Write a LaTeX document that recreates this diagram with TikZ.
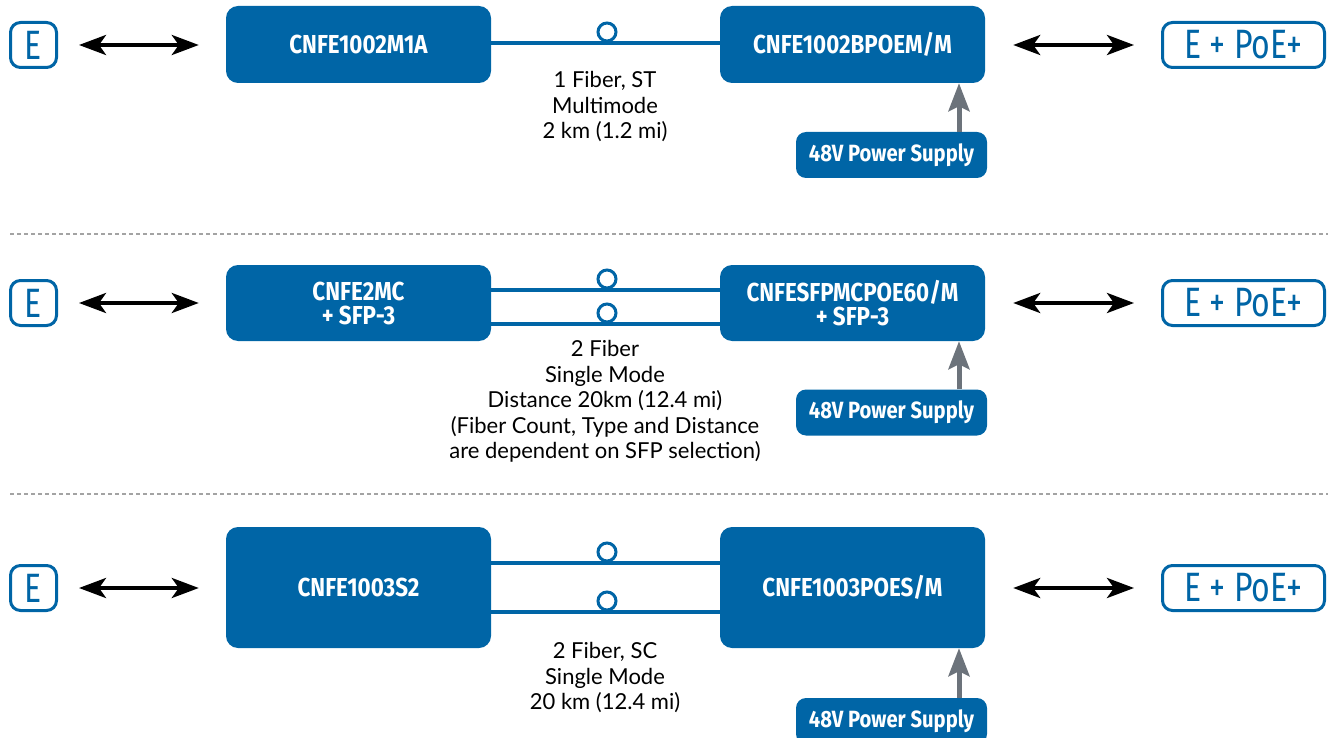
\documentclass[tikz,border=0pt]{standalone}
\usepackage{fontspec}
\setmainfont{Lato}
\newfontfamily\condfont[FakeStretch=0.86]{Fira Sans}
\newfontfamily\thinfont[FakeStretch=0.78]{Fira Sans}
\usetikzlibrary{arrows.meta}
\definecolor{cblue}{HTML}{0065A6}
\definecolor{feedgray}{HTML}{6C737B}
\definecolor{sepgray}{HTML}{A3A3A3}

\tikzset{
unit/.style={fill=cblue, rounded corners=12pt, text=white, align=center,
  minimum width=265pt, inner sep=0pt,
  font=\condfont\bfseries\fontsize{26}{24}\selectfont},
psu/.style={fill=cblue, rounded corners=10pt, text=white,
  minimum width=191pt, minimum height=46pt, inner sep=0pt,
  font=\condfont\bfseries\fontsize{23.5}{23.5}\selectfont},
port/.style={draw=cblue, line width=3pt, rounded corners=10pt, text=cblue,
  minimum height=45pt, inner sep=0pt,
  font=\thinfont\fontsize{41}{41}\selectfont},
note/.style={align=center, inner sep=0pt, font=\fontsize{22}{25.5}\selectfont},
duplex/.style={line width=4pt, {Stealth[length=27pt,width=20pt,inset=7pt]}-{Stealth[length=27pt,width=20pt,inset=7pt]}},
feed/.style={draw=feedgray, line width=5pt, -{Stealth[length=28pt,width=21pt,inset=5pt]}},
fiber/.style={draw=cblue, line width=4.5pt},
splice/.style={circle, draw=cblue, line width=3pt, fill=white, minimum size=18pt, inner sep=0pt},
sep/.style={draw=sepgray, line width=1.5pt, dash pattern=on 4pt off 3pt}
}

\begin{document}
\begin{tikzpicture}[x=1pt, y=-1pt]
\useasboundingbox (0,0) rectangle (1328,738);

% row 1
\node[port, minimum width=46pt] (e1) at (33.5,45) {E};
\node[unit, minimum height=77pt] (a1) at (358.5,44.5) {CNFE1002M1A};
\node[unit, minimum height=77pt] (b1) at (852.5,44.5) {CNFE1002BPOEM/M};
\node[port, minimum width=162pt] (q1) at (1243.5,45) {E + PoE+};
\node[psu] (p1) at (891.5,155) {48V Power Supply};
\draw[duplex, shorten <=21pt, shorten >=27pt] (e1.east) -- (e1.east -| a1.west);
\draw[duplex, shorten <=28pt, shorten >=27pt] (b1.east |- q1.west) -- (q1.west);
\draw[fiber] (a1.east |- 0,43) -- (b1.west |- 0,43);
\node[splice] (s1) at (607,32) {};
\draw[feed] (p1.north -| 959,0) -- (b1.south -| 959,0);
\node[note] (t1) at (605,107) {1 Fiber, ST\\Multimode\\2 km (1.2 mi)};

\draw[sep] (10,234) -- (1328,234);

% row 2
\node[port, minimum width=46pt] (e2) at (33.5,303) {E};
\node[unit, minimum height=76pt] (a2) at (358.5,303) {CNFE2MC\\+ SFP-3};
\node[unit, minimum height=76pt] (b2) at (852.5,303) {CNFESFPMCPOE60/M\\+ SFP-3};
\node[port, minimum width=162pt] (q2) at (1243.5,303) {E + PoE+};
\node[psu] (p2) at (891.5,412.5) {48V Power Supply};
\draw[duplex, shorten <=21pt, shorten >=27pt] (e2.east) -- (e2.east -| a2.west);
\draw[duplex, shorten <=28pt, shorten >=27pt] (b2.east |- q2.west) -- (q2.west);
\draw[fiber] (a2.east |- 0,290) -- (b2.west |- 0,290);
\draw[fiber] (a2.east |- 0,324) -- (b2.west |- 0,324);
\node[splice] (s2a) at (607,279) {};
\node[splice] (s2b) at (607,313) {};
\draw[feed] (p2.north -| 959,0) -- (b2.south -| 959,0);
\node[note] (t2) at (605,401.5) {2 Fiber\\Single Mode\\Distance 20km (12.4 mi)\\(Fiber Count, Type and Distance\\are dependent on SFP selection)};

\draw[sep] (10,494) -- (1328,494);

% row 3
\node[port, minimum width=46pt] (e3) at (33.5,588) {E};
\node[unit, minimum height=121pt] (a3) at (358.5,587.5) {CNFE1003S2};
\node[unit, minimum height=121pt] (b3) at (852.5,587.5) {CNFE1003POES/M};
\node[port, minimum width=162pt] (q3) at (1243.5,588) {E + PoE+};
\node[psu] (p3) at (891.5,721) {48V Power Supply};
\draw[duplex, shorten <=21pt, shorten >=27pt] (e3.east) -- (e3.east -| a3.west);
\draw[duplex, shorten <=28pt, shorten >=27pt] (b3.east |- q3.west) -- (q3.west);
\draw[fiber] (a3.east |- 0,563) -- (b3.west |- 0,563);
\draw[fiber] (a3.east |- 0,612) -- (b3.west |- 0,612);
\node[splice] (s3a) at (607,552) {};
\node[splice] (s3b) at (607,601) {};
\draw[feed] (p3.north -| 959,0) -- (b3.south -| 959,0);
\node[note] (t3) at (605,678) {2 Fiber, SC\\Single Mode\\20 km (12.4 mi)};
\end{tikzpicture}
\end{document}
